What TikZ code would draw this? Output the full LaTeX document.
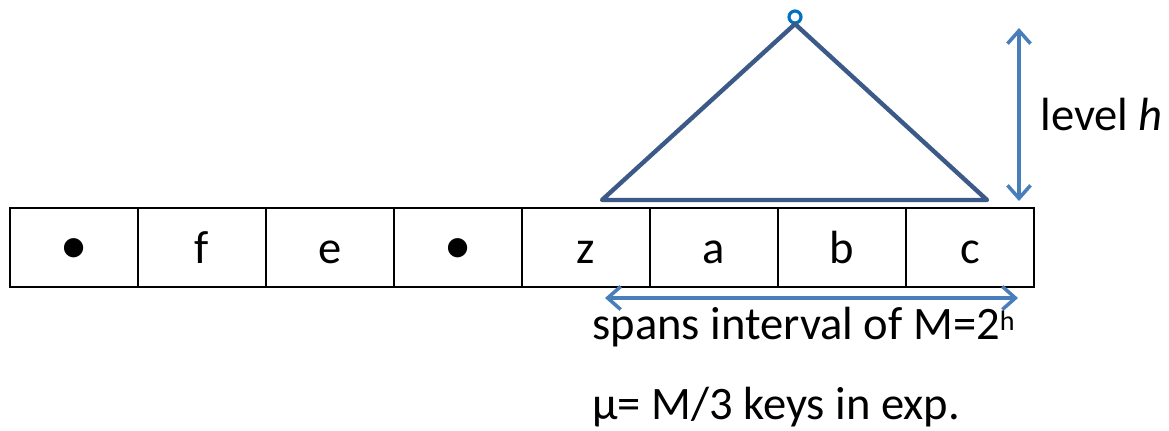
\documentclass[tikz,border=0pt]{standalone}
\usepackage{fontspec}
\setmainfont{Carlito}
\usetikzlibrary{positioning, arrows.meta, calc}
\definecolor{tri}{HTML}{3B5A87}
\definecolor{span}{HTML}{4A7EBB}
\definecolor{root}{HTML}{0070C0}
\newcommand{\bigdot}{{\fontsize{31}{31}\selectfont\textbullet}}
\newcommand{\suph}{\raisebox{5pt}{\fontsize{16}{16}\selectfont h}}

\begin{document}
\begin{tikzpicture}[
  x=0.02cm, y=-0.02cm,
  font=\fontsize{26.5}{31}\selectfont,
  cell/.style={draw=black, line width=1.1pt, minimum width=2.56cm, minimum height=1.58cm, inner sep=0pt,
    text height=0.7cm, text depth=0.08cm, anchor=center},
  lbl/.style={inner sep=0pt, anchor=base west},
  dim/.style={{Straight Barb[length=2.6mm, width=4.6mm, line width=2pt]}-{Straight Barb[length=2.6mm, width=4.6mm, line width=2pt]}, line width=2.2pt, span}
]
  \useasboundingbox (0,0) rectangle (1169,430);

  % the array of keys
  \foreach \key [count=\i from 0] in {\bigdot, f, e, \bigdot, z, a, b, c}
    \node[cell] (c\i) at ({74+128*\i}, 247.5) {\key};

  % subtree over the last cells
  \node[circle, draw=root, fill=white, line width=1.8pt, minimum size=0.24cm, inner sep=0pt] (top) at (795,17) {};
  \coordinate (apex) at (795,24);
  \coordinate (bl) at (602,200);
  \coordinate (br) at (987,200);
  \draw[tri, line width=2.5pt, line join=round] (bl) -- (apex) -- (br) -- cycle;

  % height of the subtree
  \coordinate (hup) at (1019,28);
  \coordinate (hdn) at (1019,201);
  \draw[dim] (hup) -- (hdn);
  \node[lbl] (level) at (1040,130) {level \textit{h}};

  % interval spanned
  \coordinate (sl) at (605,298);
  \coordinate (sr) at (1018,298);
  \draw[dim] (sl) -- (sr);
  \node[lbl] (spans) at (592,339) {spans interval of M=2\suph};
  \node[lbl] (keys) at (592,419) {μ= M/3 keys in exp.};
\end{tikzpicture}
\end{document}
